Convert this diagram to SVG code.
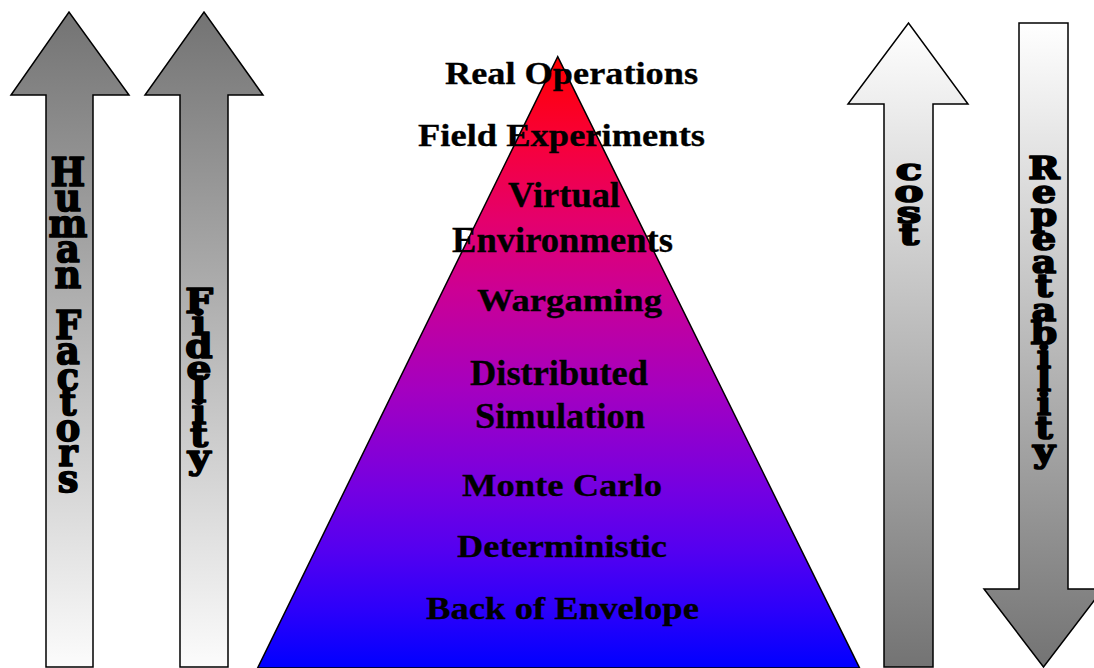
<svg xmlns="http://www.w3.org/2000/svg" width="1094" height="668" viewBox="0 0 1094 668">
  <defs>
    <linearGradient id="gPyr" gradientUnits="userSpaceOnUse" x1="0" y1="57" x2="0" y2="668">
      <stop offset="0" stop-color="#FF0000"/>
      <stop offset="0.136" stop-color="#F80038"/>
      <stop offset="0.267" stop-color="#E4006C"/>
      <stop offset="0.381" stop-color="#CC0094"/>
      <stop offset="0.545" stop-color="#A400C0"/>
      <stop offset="0.709" stop-color="#7400E2"/>
      <stop offset="0.807" stop-color="#5400F0"/>
      <stop offset="0.905" stop-color="#2C00FA"/>
      <stop offset="1" stop-color="#0000FF"/>
    </linearGradient>
    <linearGradient id="gDarkTop" gradientUnits="userSpaceOnUse" x1="0" y1="12" x2="0" y2="668">
      <stop offset="0" stop-color="#737373"/>
      <stop offset="1" stop-color="#FCFCFC"/>
    </linearGradient>
    <linearGradient id="gLightTop" gradientUnits="userSpaceOnUse" x1="0" y1="23" x2="0" y2="668">
      <stop offset="0" stop-color="#FFFFFF"/>
      <stop offset="1" stop-color="#737373"/>
    </linearGradient>
  </defs>
  <style>
    .arrow { stroke: #000; stroke-width: 1.5; stroke-linejoin: miter; }
    .vlab { font-family: "DejaVu Serif", "Liberation Serif", serif; font-weight: bold; fill: #000; stroke: #000; stroke-width: 1.7; stroke-linejoin: round; text-anchor: middle; }
    .plab { font-family: "Liberation Serif", "Times New Roman", serif; font-weight: bold; fill: #000; stroke: #000; stroke-width: 0.3; }
  </style>

  <g id="arrow-human-factors">
    <path class="arrow" fill="url(#gDarkTop)" d="M46,667 L46,95 L11,95 L69,12 L129,95 L93,95 L93,667 Z"/>
    <text class="vlab" font-size="40" transform="translate(68,0) scale(0.92,1)" x="0 0 0 0 0 0 0 0 0 0 0 0 0" y="186 211.5 237 262.5 288 313.5 339 364.5 390 415.5 441 466.5 492">Human Factors</text>
  </g>

  <g id="arrow-fidelity">
    <path class="arrow" fill="url(#gDarkTop)" d="M180,667 L180,95 L145,95 L204,12 L263,95 L228,95 L228,667 Z"/>
    <text class="vlab" font-size="34" transform="translate(199,0) scale(1.15,1)" x="0 0 0 0 0 0 0 0" y="313 335.3 357.6 379.9 402.2 424.5 446.8 469.1">Fidelity</text>
  </g>

  <g id="pyramid">
    <path stroke="#000" stroke-width="1.5" fill="url(#gPyr)" d="M557.7,56.7 L859.6,668 L257.6,668 Z"/>
  </g>

  <g id="pyramid-labels">
    <text class="plab" font-size="32" x="445" y="84" textLength="253" lengthAdjust="spacingAndGlyphs">Real Operations</text>
    <text class="plab" font-size="32" x="418" y="146" textLength="287" lengthAdjust="spacingAndGlyphs">Field Experiments</text>
    <text class="plab" font-size="36" x="508" y="207" textLength="112" lengthAdjust="spacingAndGlyphs">Virtual</text>
    <text class="plab" font-size="36" x="452" y="252" textLength="221" lengthAdjust="spacingAndGlyphs">Environments</text>
    <text class="plab" font-size="32" x="477" y="311" textLength="185" lengthAdjust="spacingAndGlyphs">Wargaming</text>
    <text class="plab" font-size="36" x="470" y="385" textLength="178" lengthAdjust="spacingAndGlyphs">Distributed</text>
    <text class="plab" font-size="36" x="475" y="428" textLength="170" lengthAdjust="spacingAndGlyphs">Simulation</text>
    <text class="plab" font-size="32" x="462" y="496" textLength="200" lengthAdjust="spacingAndGlyphs">Monte Carlo</text>
    <text class="plab" font-size="31" x="457" y="557" textLength="210" lengthAdjust="spacingAndGlyphs">Deterministic</text>
    <text class="plab" font-size="32" x="426" y="619" textLength="273" lengthAdjust="spacingAndGlyphs">Back of Envelope</text>
  </g>

  <g id="arrow-cost">
    <path class="arrow" fill="url(#gLightTop)" d="M884,667 L884,104 L848,104 L908.5,23 L968,104 L933,104 L933,667 Z"/>
    <text class="vlab" font-size="30" transform="translate(909,0) scale(1.45,1)" x="0 0 0 0" y="180 201.7 223.4 245">cost</text>
  </g>

  <g id="arrow-repeatability">
    <path class="arrow" fill="url(#gLightTop)" d="M1019,23 L1068,23 L1068,589 L1103,589 L1043.5,667 L984,589 L1019,589 Z"/>
    <text class="vlab" font-size="31" transform="translate(1044,0) scale(1.22,1)" x="0 0 0 0 0 0 0 0 0 0 0 0 0" y="179 202.6 226.2 249.8 273.4 297 320.6 344.2 367.8 391.4 415 438.6 462.2">Repeatability</text>
  </g>
</svg>
